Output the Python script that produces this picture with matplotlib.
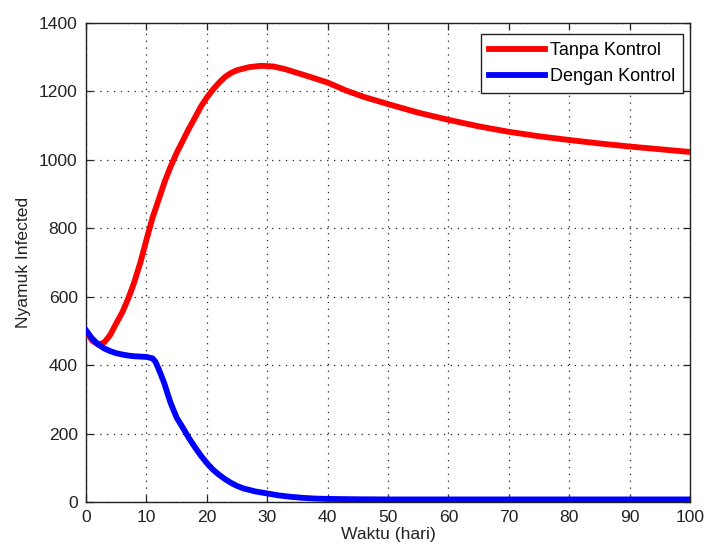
import matplotlib
matplotlib.use("Agg")
import matplotlib.pyplot as plt

plt.rcParams["font.family"] = ["Liberation Sans", "DejaVu Sans"]

# Waktu (hari) and number of infected mosquitoes
days_tanpa = [0, 1, 2, 3, 4, 5, 6, 7, 8, 9, 10, 11, 12, 13, 14, 15, 16, 17, 18, 19,
              20, 21, 22, 23, 24, 25, 27, 29, 31, 33, 35, 37, 40, 43, 46, 50, 55,
              60, 65, 70, 75, 80, 85, 90, 95, 100]
tanpa_kontrol = [500, 472, 460, 466, 488, 522, 554, 595, 643, 700, 766, 830, 882, 935,
                 980, 1020, 1055, 1090, 1122, 1155, 1182, 1205, 1225, 1242, 1254, 1262,
                 1271, 1275, 1273, 1265, 1254, 1243, 1226, 1203, 1184, 1163, 1138,
                 1117, 1098, 1082, 1069, 1058, 1048, 1039, 1031, 1023]

days_dengan = [0, 1, 2, 3, 4, 5, 6, 7, 8, 9, 10, 11, 11.5, 12, 12.5, 13, 13.5, 14, 15,
               16, 17, 18, 19, 20, 21, 22, 23, 24, 25, 26, 28, 30, 32, 34, 36, 38, 40,
               45, 50, 60, 70, 80, 90, 100]
dengan_kontrol = [502, 478, 461, 449, 441, 435, 431, 428, 426, 425, 424, 420, 410, 390,
                  368, 345, 317, 290, 247, 218, 188, 161, 136, 114, 95, 80, 67, 56, 47,
                  40, 31, 25, 19, 15, 12, 10, 9, 8, 7.5, 7.5, 7.5, 7.5, 7.5, 7.5]

x_ticks = list(range(0, 101, 10))
y_ticks = list(range(0, 1401, 200))

FS = 12.6
INK = "#222222"

fig = plt.figure(figsize=(7.05, 5.51), dpi=100)
ax = fig.add_axes([86 / 705, 1 - 502 / 551, 604 / 705, 479 / 551])

ax.plot(days_tanpa, tanpa_kontrol, color="#ff0000", lw=4.2, label="Tanpa Kontrol",
        solid_joinstyle="round", zorder=3)
ax.plot(days_dengan, dengan_kontrol, color="#0000ff", lw=4.2, label="Dengan Kontrol",
        solid_joinstyle="round", zorder=4)

ax.set_xlim(0, 100)
ax.set_ylim(0, 1400)
ax.set_xticks(x_ticks)
ax.set_yticks(y_ticks)

ax.grid(True, color=INK, linestyle=(0, (1, 4.5)), lw=0.9)
for s in ax.spines.values():
    s.set_color(INK)
    s.set_linewidth(1.0)
ax.tick_params(direction="in", length=5, width=0.9, color=INK,
               top=True, right=True, labelsize=FS, labelcolor=INK)
ax.tick_params(axis="x", pad=6)
ax.tick_params(axis="y", pad=6)

ax.set_xlabel("Waktu (hari)", fontsize=FS, color=INK, labelpad=1)
ax.set_ylabel("Nyamuk Infected", fontsize=FS, color=INK, labelpad=6)

leg = ax.legend(loc="upper right", bbox_to_anchor=(597 / 604, 468 / 479),
                borderaxespad=0, fontsize=13, fancybox=False, framealpha=1,
                edgecolor=INK, handlelength=3.1, handletextpad=0.25,
                borderpad=0.45, labelspacing=0.5)
leg.get_frame().set_linewidth(1.0)

fig.savefig("out.png", dpi=100)
